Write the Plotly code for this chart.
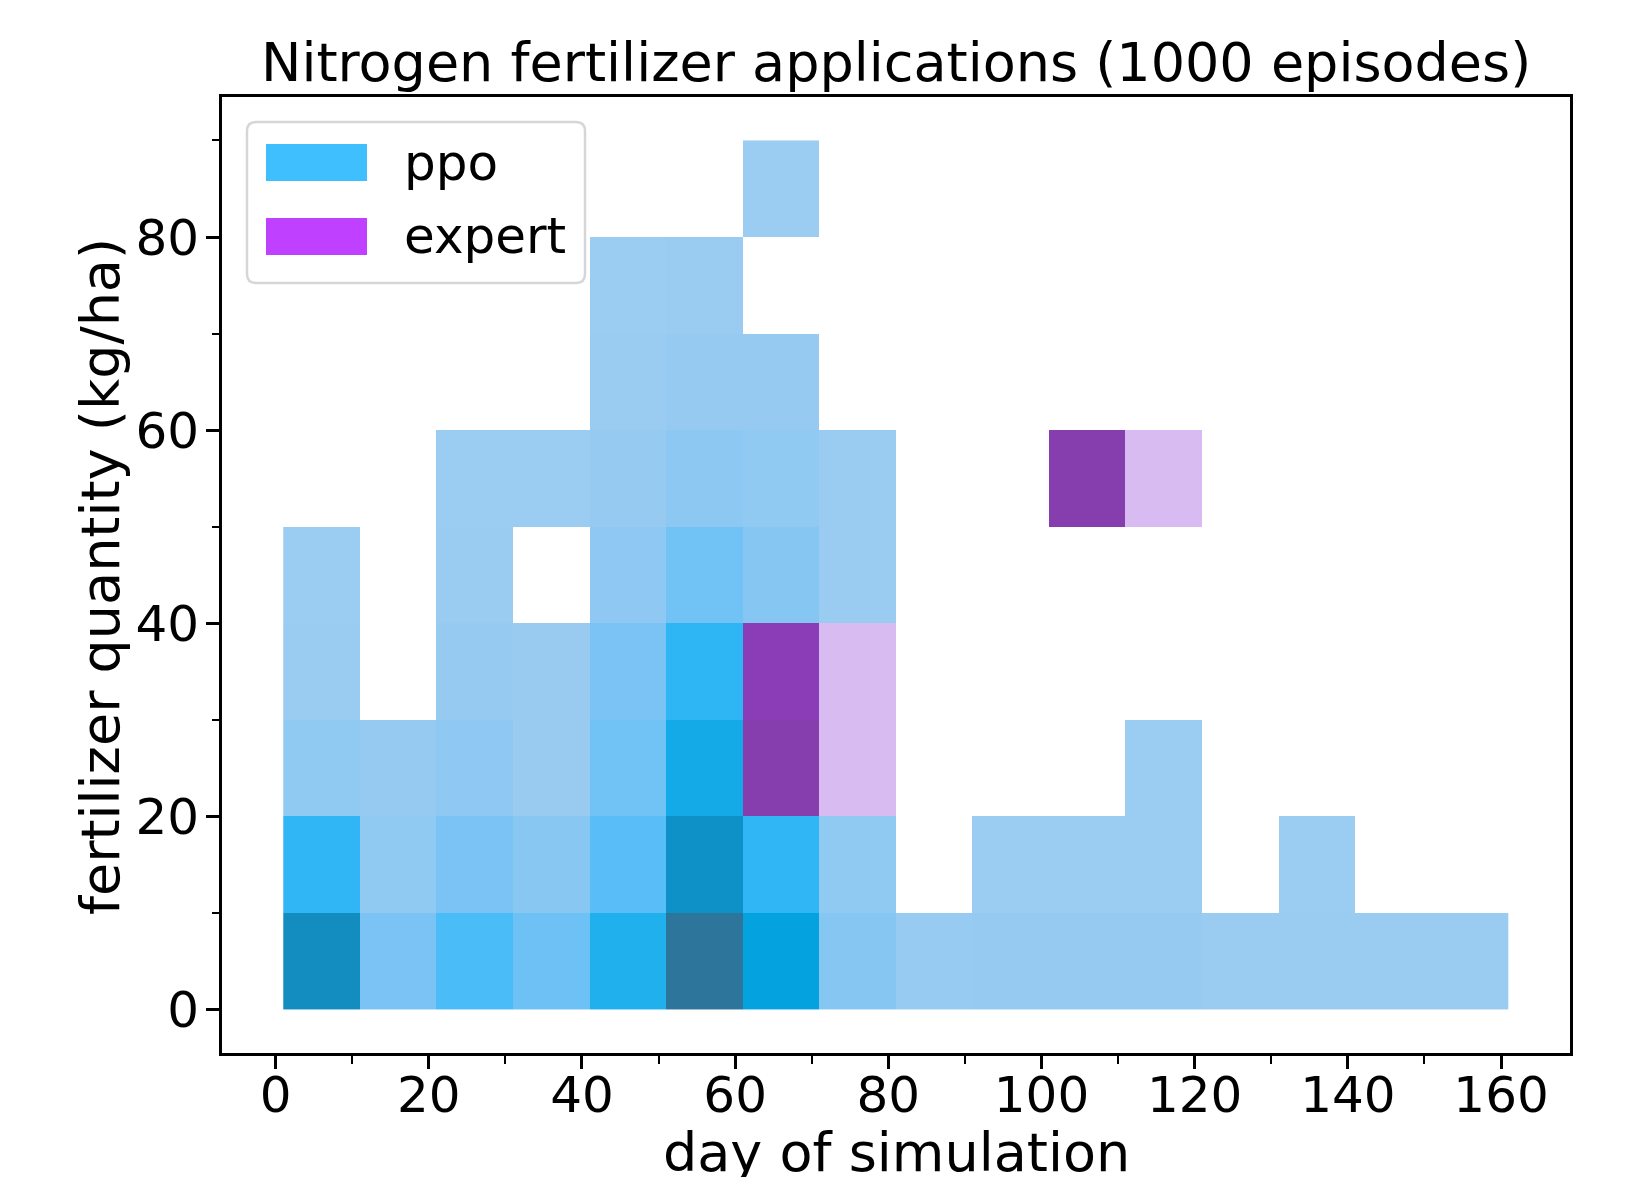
import math
import numpy as np
import plotly.graph_objects as go

# ---------------- data ----------------
X_EDGES = list(range(1, 162, 10))          # day-of-simulation bin edges
Y_EDGES = list(range(0, 91, 10))           # fertilizer quantity bin edges
N = None
# rows: quantity bins 0-10 ... 80-90 ; columns: day bins 1-11 ... 151-161
PPO_COUNTS = [
    [554, 89, 172, 116, 273, 747, 375, 60, 12, 18, 18, 18, 8, 8, 8, 8],
    [218, 35, 89, 53, 151, 527, 218, 35, N, 5, 5, 5, N, 5, N, N],
    [35, 20, 38, 10, 107, 322, N, N, N, N, N, 5, N, N, N, N],
    [8, N, 20, 10, 89, 231, N, N, N, N, N, N, N, N, N, N],
    [5, N, 6, N, 38, 107, 60, 6, N, N, N, N, N, N, N, N],
    [N, N, 5, 5, 20, 45, 35, 6, N, N, N, N, N, N, N, N],
    [N, N, N, N, 6, 20, 20, N, N, N, N, N, N, N, N, N],
    [N, N, N, N, 5, 6, N, N, N, N, N, N, N, N, N, N],
    [N, N, N, N, N, N, 5, N, N, N, N, N, N, N, N, N],
]
EXPERT_COUNTS = [
    [N] * 16,
    [N] * 16,
    [N, N, N, N, N, N, 876, 5, N, N, N, N, N, N, N, N],
    [N, N, N, N, N, N, 850, 5, N, N, N, N, N, N, N, N],
    [N] * 16,
    [N, N, N, N, N, N, N, N, N, N, 876, 5, N, N, N, N],
    [N] * 16,
    [N] * 16,
    [N] * 16,
]
VMAX = 1000
SERIES = ["ppo", "expert"]
X_TICKS = list(range(0, 161, 20))
Y_TICKS = list(range(0, 81, 20))

PPO_COLOR = (0.25, 0.75, 1.0)
EXPERT_COLOR = (0.75, 0.25, 1.0)

# ---------------- husl (as in seaborn) ----------------
M = [[3.2406, -1.5372, -0.4986], [-0.9689, 1.8758, 0.0415], [0.0557, -0.2040, 1.0570]]
M_INV = [[0.4124, 0.3576, 0.1805], [0.2126, 0.7152, 0.0722], [0.0193, 0.1192, 0.9505]]
refX, refY, refZ = 0.95047, 1.0, 1.08883
refU, refV = 0.19784, 0.46834
lab_e, lab_k = 0.008856, 903.3


def dot(a, b):
    return sum(i * j for i, j in zip(a, b))


def max_chroma(L, H):
    hrad = math.radians(H)
    sinH, cosH = math.sin(hrad), math.cos(hrad)
    sub1 = math.pow(L + 16, 3.0) / 1560896.0
    sub2 = sub1 if sub1 > 0.008856 else (L / 903.3)
    result = float("inf")
    for row in M:
        m1, m2, m3 = row
        top = (0.99915 * m1 + 1.05122 * m2 + 1.14460 * m3) * sub2
        rbottom = 0.86330 * m3 - 0.17266 * m2
        lbottom = 0.12949 * m3 - 0.38848 * m1
        bottom = (rbottom * sinH + lbottom * cosH) * sub2
        for t in (0.0, 1.0):
            C = L * (top - 1.05122 * t) / (bottom + 0.17266 * sinH * t)
            if 0.0 < C < result:
                result = C
    return result


def f_inv(t):
    return t ** 3 if t ** 3 > lab_e else (116.0 * t - 16.0) / lab_k


def from_linear(c):
    return 12.92 * c if c <= 0.0031308 else 1.055 * math.pow(c, 1 / 2.4) - 0.055


def to_linear(c):
    return ((c + 0.055) / 1.055) ** 2.4 if c > 0.04045 else c / 12.92


def husl_to_rgb(h, s, l):
    if l > 99.9999999:
        L, C, H = 100, 0.0, h
    elif l < 1e-8:
        L, C, H = 0.0, 0.0, h
    else:
        L, C, H = l, max_chroma(l, h) / 100.0 * s, h
    U = math.cos(math.radians(H)) * C
    V = math.sin(math.radians(H)) * C
    if L == 0:
        return [0.0, 0.0, 0.0]
    varY = f_inv((L + 16.0) / 116.0)
    varU = U / (13.0 * L) + refU
    varV = V / (13.0 * L) + refV
    Y = varY * refY
    X = 0.0 - (9.0 * Y * varU) / ((varU - 4.0) * varV - varU * varV)
    Z = (9.0 * Y - (15.0 * varV * Y) - (varV * X)) / (3.0 * varV)
    return [from_linear(dot(row, [X, Y, Z])) for row in M]


def rgb_to_husl(r, g, b):
    lin = [to_linear(c) for c in (r, g, b)]
    X, Y, Z = [dot(row, lin) for row in M_INV]
    varU = 4.0 * X / (X + 15.0 * Y + 3.0 * Z)
    varV = 9.0 * Y / (X + 15.0 * Y + 3.0 * Z)
    fy = Y / refY
    L = 116.0 * (fy ** (1 / 3) if fy > lab_e else 7.787 * fy + 16 / 116) - 16.0
    U = 13.0 * L * (varU - refU)
    V = 13.0 * L * (varV - refV)
    C = math.hypot(U, V)
    H = math.degrees(math.atan2(V, U))
    if H < 0:
        H += 360
    S = C / max_chroma(L, H) * 100.0
    return H, S, L


def colorscale_from_color(color):
    h, s, _ = rgb_to_husl(*color)
    xx = np.linspace(-1, 1, int(1.15 * 256))[:256]
    ls = np.linspace(35, 80, 256)
    cols = [np.clip(husl_to_rgb(h, s * math.cos(x), l), 0, 1) for x, l in zip(xx, ls)]
    cols = cols[::-1]
    return [[i / 255, "rgb(%d,%d,%d)" % tuple(int(round(v * 255)) for v in c)]
            for i, c in enumerate(cols)]


def hexc(c):
    return "rgb(%d,%d,%d)" % tuple(int(round(v * 255)) for v in c)


# ---------------- figure ----------------
OFF = 8                       # page body margin
SW, SH = 1631, 1177           # screen size
W, H = SW - OFF, SH - OFF
PL, PR, PT, PB = 222, 1570, 97, 1053   # plot area in screen pixels


def px(x):
    return (x - PL) / (PR - PL)


def py(y):
    return (PB - y) / (PB - PT)


fig = go.Figure()
for name, counts, color in [("ppo", PPO_COUNTS, PPO_COLOR), ("expert", EXPERT_COUNTS, EXPERT_COLOR)]:
    fig.add_trace(go.Heatmap(
        x=X_EDGES, y=Y_EDGES, z=counts, name=name,
        colorscale=colorscale_from_color(color), zmin=0, zmax=VMAX,
        showscale=False, hoverongaps=False, zsmooth=False,
    ))

FONT = "DejaVu Sans"
axis_common = dict(
    showline=True, linecolor="black", linewidth=3, mirror=True,
    ticks="outside", ticklen=13, tickwidth=3, tickcolor="black",
    showgrid=False, zeroline=False,
    tickfont=dict(family=FONT, size=50, color="black"),
)
fig.update_xaxes(range=[-7, 169], tickvals=X_TICKS,
                 minor=dict(tickvals=list(range(10, 170, 20)), ticks="outside", ticklen=7.5,
                            tickwidth=2.2, tickcolor="black", showgrid=False),
                 ticklabelstandoff=-17, **axis_common)
fig.update_yaxes(range=[-4.5, 94.5], tickvals=Y_TICKS,
                 minor=dict(tickvals=list(range(10, 95, 20)), ticks="outside", ticklen=7.5,
                            tickwidth=2.2, tickcolor="black", showgrid=False),
                 ticklabelstandoff=-3, **axis_common)

# legend (drawn like matplotlib's)
bx0, bx1, by0, by1, rr = 247, 585, 122, 283, 9
pts = [
    f"M {px(bx0 + rr)},{py(by0)}", f"L {px(bx1 - rr)},{py(by0)}",
    f"Q {px(bx1)},{py(by0)} {px(bx1)},{py(by0 + rr)}", f"L {px(bx1)},{py(by1 - rr)}",
    f"Q {px(bx1)},{py(by1)} {px(bx1 - rr)},{py(by1)}", f"L {px(bx0 + rr)},{py(by1)}",
    f"Q {px(bx0)},{py(by1)} {px(bx0)},{py(by1 - rr)}", f"L {px(bx0)},{py(by0 + rr)}",
    f"Q {px(bx0)},{py(by0)} {px(bx0 + rr)},{py(by0)}", "Z",
]
shapes = [dict(type="path", xref="paper", yref="paper", path=" ".join(pts),
               line=dict(color="#D6D6D6", width=2.5), fillcolor="white", layer="above")]
annotations = []
for i, (name, color) in enumerate(zip(SERIES, [PPO_COLOR, EXPERT_COLOR])):
    y0 = 144 + i * 74
    shapes.append(dict(type="rect", xref="paper", yref="paper",
                       x0=px(266), x1=px(367), y0=py(y0), y1=py(y0 + 37),
                       fillcolor=hexc(color), line=dict(width=0), layer="above"))
    annotations.append(dict(xref="paper", yref="paper", x=px(402), y=py(y0 + 19 - i),
                            xanchor="left", yanchor="middle", text=name, showarrow=False,
                            font=dict(family=FONT, size=50, color="black")))

annotations += [
    dict(xref="paper", yref="paper", x=0.5, y=py(63), xanchor="center", yanchor="middle",
         text="Nitrogen fertilizer applications (1000 episodes)", showarrow=False,
         font=dict(family=FONT, size=54, color="black")),
    dict(xref="paper", yref="paper", x=0.5, y=py(1152), xanchor="center", yanchor="middle",
         text="day of simulation", showarrow=False,
         font=dict(family=FONT, size=54, color="black")),
    dict(xref="paper", yref="paper", x=px(100), y=py(577), xanchor="center", yanchor="middle",
         text="fertilizer quantity (kg/ha)", textangle=-90, showarrow=False,
         font=dict(family=FONT, size=54, color="black")),
]

fig.update_layout(
    width=W, height=H, autosize=False,
    margin=dict(l=PL - OFF, r=SW - PR, t=PT - OFF, b=SH - PB, pad=0),
    paper_bgcolor="white", plot_bgcolor="white",
    shapes=shapes, annotations=annotations, showlegend=False,
    font=dict(family=FONT, color="black"),
)

fig.write_html("out.html")
